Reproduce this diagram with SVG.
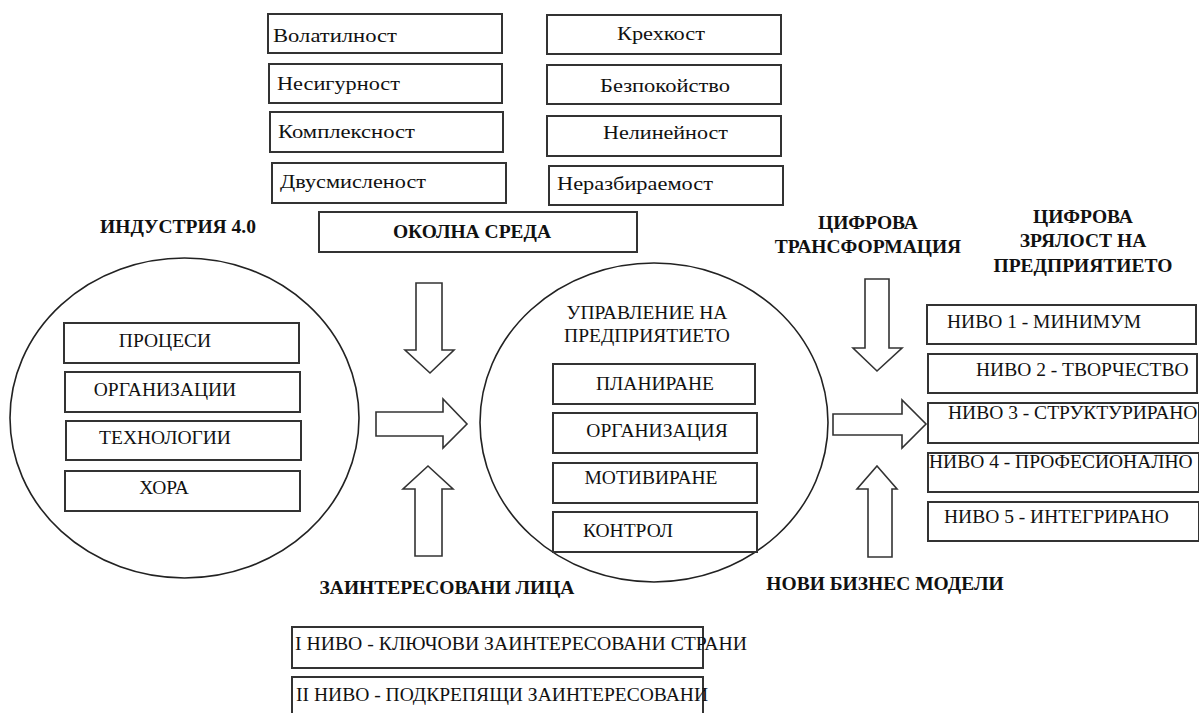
<svg xmlns="http://www.w3.org/2000/svg" width="1199" height="713" viewBox="0 0 1199 713">
<style>
  .bx { fill: #fff; stroke: #333; stroke-width: 2; }
  .cr { fill: none; stroke: #222; stroke-width: 1.6; }
  .ar { fill: #fff; stroke: #333; stroke-width: 1.6; stroke-linejoin: miter; }
  text { font-family: "Liberation Serif", "DejaVu Serif", serif; font-size: 19.5px; fill: #111; }
  .b { font-weight: bold; }
  .m { text-anchor: middle; }
</style>
<rect width="1199" height="713" fill="#fff"/>

<!-- Environment factors -->
<g id="volatility"><rect class="bx" x="268" y="14" width="234" height="39"/><text x="273" y="42" textLength="124" lengthAdjust="spacingAndGlyphs">Волатилност</text></g>
<g id="uncertainty"><rect class="bx" x="269" y="64" width="233" height="39"/><text x="277" y="90" textLength="123" lengthAdjust="spacingAndGlyphs">Несигурност</text></g>
<g id="complexity"><rect class="bx" x="270" y="112" width="233" height="40"/><text x="278" y="138" textLength="137" lengthAdjust="spacingAndGlyphs">Комплексност</text></g>
<g id="ambiguity"><rect class="bx" x="272" y="163" width="234" height="40"/><text x="280" y="188" textLength="146" lengthAdjust="spacingAndGlyphs">Двусмисленост</text></g>
<g id="fragility"><rect class="bx" x="547" y="15" width="234" height="39"/><text x="617" y="40" textLength="88" lengthAdjust="spacingAndGlyphs">Крехкост</text></g>
<g id="anxiety"><rect class="bx" x="547" y="65" width="234" height="39"/><text x="600" y="92" textLength="130" lengthAdjust="spacingAndGlyphs">Безпокойство</text></g>
<g id="nonlinearity"><rect class="bx" x="547" y="116" width="234" height="40"/><text x="603" y="139" textLength="125" lengthAdjust="spacingAndGlyphs">Нелинейност</text></g>
<g id="incomprehensibility"><rect class="bx" x="549" y="166" width="234" height="39"/><text x="557" y="190" textLength="156" lengthAdjust="spacingAndGlyphs">Неразбираемост</text></g>
<g id="environment"><rect class="bx" x="319" y="212" width="318" height="40"/><text class="b m" x="472" y="238">ОКОЛНА СРЕДА</text></g>

<!-- Industry 4.0 -->
<g id="industry40">
  <text class="b m" x="178" y="233">ИНДУСТРИЯ 4.0</text>
  <ellipse class="cr" cx="184.5" cy="418" rx="174.5" ry="160"/>
</g>
<g id="processes"><rect class="bx" x="64" y="323" width="235" height="40"/><text class="m" x="165" y="347">ПРОЦЕСИ</text></g>
<g id="organizations"><rect class="bx" x="65" y="372" width="235" height="40"/><text class="m" x="165" y="396">ОРГАНИЗАЦИИ</text></g>
<g id="technologies"><rect class="bx" x="66" y="421" width="235" height="39"/><text class="m" x="165" y="444">ТЕХНОЛОГИИ</text></g>
<g id="people"><rect class="bx" x="65" y="471" width="235" height="40"/><text class="m" x="164" y="494">ХОРА</text></g>

<!-- Enterprise management -->
<g id="management">
  <ellipse class="cr" cx="654" cy="422.5" rx="174" ry="159.5"/>
  <text class="m" x="647" y="319">УПРАВЛЕНИЕ НА</text>
  <text class="m" x="647" y="342">ПРЕДПРИЯТИЕТО</text>
</g>
<g id="planning"><rect class="bx" x="553" y="364" width="202" height="40"/><text class="m" x="655" y="390">ПЛАНИРАНЕ</text></g>
<g id="organization"><rect class="bx" x="553" y="413" width="204" height="40"/><text class="m" x="657" y="437">ОРГАНИЗАЦИЯ</text></g>
<g id="motivation"><rect class="bx" x="553" y="463" width="204" height="40"/><text class="m" x="651" y="484">МОТИВИРАНЕ</text></g>
<g id="control"><rect class="bx" x="553" y="512" width="204" height="40"/><text x="583" y="537">КОНТРОЛ</text></g>

<!-- Stakeholders -->
<g id="stakeholders"><text class="b m" x="447" y="594">ЗАИНТЕРЕСОВАНИ ЛИЦА</text></g>
<g id="level1-stakeholders"><rect class="bx" x="292" y="627" width="411" height="41"/><text x="295" y="650" textLength="452" lengthAdjust="spacingAndGlyphs">I НИВО - КЛЮЧОВИ ЗАИНТЕРЕСОВАНИ СТРАНИ</text></g>
<g id="level2-stakeholders"><rect class="bx" x="292" y="677" width="411" height="45"/><text x="296" y="701" textLength="412" lengthAdjust="spacingAndGlyphs">II НИВО - ПОДКРЕПЯЩИ ЗАИНТЕРЕСОВАНИ</text></g>

<!-- Digital transformation / business models -->
<g id="digital-transformation"><text class="b m" x="868" y="229">ЦИФРОВА</text><text class="b m" x="868" y="253">ТРАНСФОРМАЦИЯ</text></g>
<g id="new-business-models"><text class="b m" x="885" y="590">НОВИ БИЗНЕС МОДЕЛИ</text></g>

<!-- Digital maturity -->
<g id="digital-maturity"><text class="b m" x="1083" y="223">ЦИФРОВА</text><text class="b m" x="1083" y="247">ЗРЯЛОСТ НА</text><text class="b m" x="1083" y="272">ПРЕДПРИЯТИЕТО</text></g>
<g id="level1"><rect class="bx" x="927" y="305" width="269" height="39"/><text x="947" y="328">НИВО 1 - МИНИМУМ</text></g>
<g id="level2"><rect class="bx" x="928" y="354" width="269" height="39"/><text x="976" y="376">НИВО 2 - ТВОРЧЕСТВО</text></g>
<g id="level3"><rect class="bx" x="928" y="403" width="271" height="40"/><text x="948" y="419">НИВО 3 - СТРУКТУРИРАНО</text></g>
<g id="level4"><rect class="bx" x="928" y="453" width="271" height="39"/><text x="929" y="468">НИВО 4 - ПРОФЕСИОНАЛНО</text></g>
<g id="level5"><rect class="bx" x="928" y="502" width="271" height="39"/><text x="944" y="523">НИВО 5 - ИНТЕГРИРАНО</text></g>

<!-- Connectors (block arrows) -->
<g id="connectors">
  <polygon class="ar" points="416,283 442,283 442,350 454,350 430,373 405,350 416,350"/>
  <polygon class="ar" points="376,412 443,412 443,399 467,424 443,448 443,436 376,436"/>
  <polygon class="ar" points="428,466 453,489 442,489 442,556 415,556 415,489 403,489"/>
  <polygon class="ar" points="865,279 889,279 889,348 902,348 877,371 853,348 865,348"/>
  <polygon class="ar" points="833,414 902,414 902,400 926,424 902,448 902,435 833,435"/>
  <polygon class="ar" points="877,466 897,489 892,489 892,557 868,557 868,489 857,489"/>
</g>
</svg>
